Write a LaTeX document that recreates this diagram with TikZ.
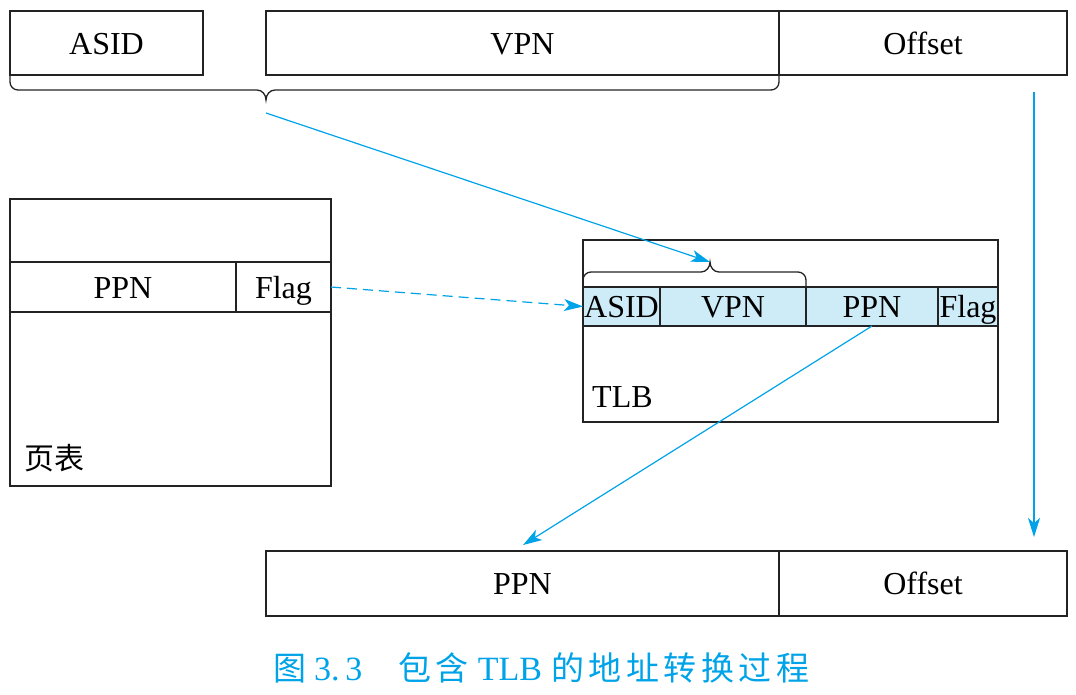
\documentclass[tikz,border=0pt]{standalone}
\usepackage{fontspec}
\setmainfont{Liberation Serif}
\newfontfamily\cjk{Noto Sans CJK SC}
\usetikzlibrary{arrows.meta}
\definecolor{lineblue}{RGB}{0,163,232}
\definecolor{rowfill}{RGB}{205,236,248}
\definecolor{frame}{RGB}{35,35,35}
\newcommand{\cg}{\hspace{4.5pt}}
\begin{document}
\begin{tikzpicture}[x=1pt,y=-1pt,
  field/.style={draw=frame,line width=1.3pt,rectangle,inner sep=0pt,outer sep=0pt,font=\fontsize{32}{34}\selectfont,text height=22pt,text depth=0pt},
  tlbfield/.style={field,fill=rowfill,minimum height=39pt},
  conn/.style={draw=lineblue,line width=1.2pt,-{Stealth[length=19pt,width=12pt,inset=5pt]}},
  bracel/.style={draw=frame,line width=1.3pt}]
\useasboundingbox (0,0) rectangle (1076,694);
% top virtual address
\node[field,minimum width=193pt,minimum height=64pt] (asid) at (106.5,43) {ASID};
\node[field,minimum width=513pt,minimum height=64pt] (vpn) at (522.5,43) {VPN};
\node[field,minimum width=288pt,minimum height=64pt] (off) at (923,43) {Offset};
\draw[bracel] (10,75) -- (10,82) to[out=-90,in=180] (18,90) -- (257,90) to[out=0,in=90] (266,100) to[out=90,in=180] (275,90) -- (771,90) to[out=0,in=-90] (779,82) -- (779,75);
\coordinate (b1) at (266,113);
% page table
\node[field,minimum width=321pt,minimum height=287pt] (pt) at (170.5,342.5) {};
\node[field,minimum width=226pt,minimum height=50pt] (ptppn) at (123,287) {PPN};
\node[field,minimum width=95pt,minimum height=50pt] (ptflag) at (283.5,287) {Flag};
\node[anchor=west,inner sep=0pt,font=\cjk\fontsize{30}{32}\selectfont] (ptlabel) at (24,458) {页表};
% TLB
\node[field,minimum width=415pt,minimum height=182pt] (tlb) at (790.5,331) {};
\node[tlbfield,minimum width=77pt] (tasid) at (621.5,306.5) {ASID};
\node[tlbfield,minimum width=146pt] (tvpn) at (733,306.5) {VPN};
\node[tlbfield,minimum width=132pt] (tppn) at (872,306.5) {PPN};
\node[tlbfield,minimum width=60pt] (tflag) at (968,306.5) {Flag};
\node[anchor=west,inner sep=0pt,font=\fontsize{32}{34}\selectfont] (tlblabel) at (592,397) {TLB};
\draw[bracel] (583,287) -- (583,280) to[out=90,in=180] (591,272) -- (701,272) to[out=0,in=-90] (710,262) to[out=-90,in=180] (719,272) -- (798,272) to[out=0,in=90] (806,280) -- (806,287);
\coordinate (b2) at (710,262);
% physical address
\node[field,minimum width=513pt,minimum height=65pt] (bppn) at (522.5,583.5) {PPN};
\node[field,minimum width=288pt,minimum height=65pt] (boff) at (923,583.5) {Offset};
% connectors
\coordinate (os) at (1034,92);
\coordinate (oe) at (1034,537);
\coordinate (pe) at (523,545);
\draw[conn] (b1) -- (b2);
\draw[conn] (os) -- (oe);
\draw[conn,dash pattern=on 10pt off 6pt] (ptflag.east) -- (tasid.west);
\draw[conn] (tppn.south) -- (pe);
% caption
\node[text=lineblue,inner sep=0pt,anchor=west,font=\fontsize{34}{36}\selectfont] (cap) at (273,668) {{\cjk\fontsize{33}{36}\selectfont 图}\hspace{8pt}3.\,3\hspace{36pt}{\cjk\fontsize{33}{36}\selectfont 包\cg 含}\hspace{9pt}TLB\hspace{9pt}{\cjk\fontsize{33}{36}\selectfont 的\cg 地\cg 址\cg 转\cg 换\cg 过\cg 程}};
\end{tikzpicture}
\end{document}
